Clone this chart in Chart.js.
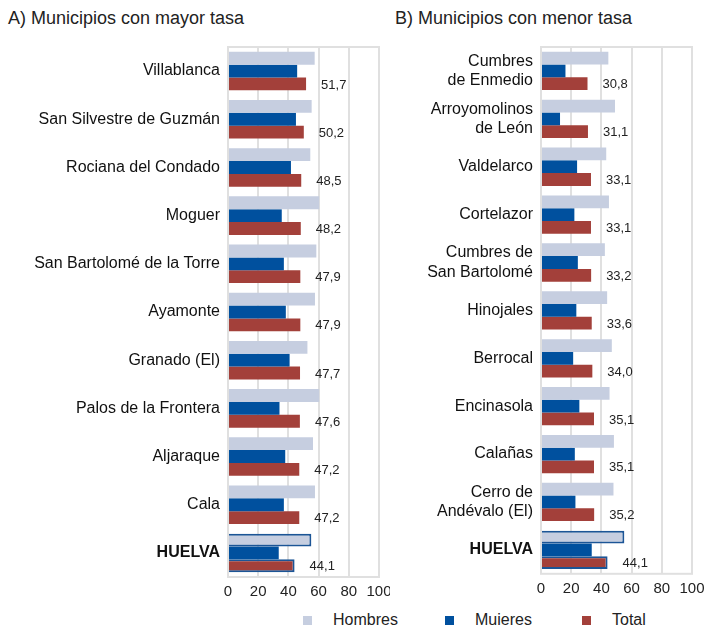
<!DOCTYPE html>
<html>
<head>
<meta charset="utf-8">
<script src="https://cdn.jsdelivr.net/npm/chart.js@4.4.1/dist/chart.umd.min.js"></script>
<style>
  html, body { margin: 0; padding: 0; background: #fff; overflow: hidden; }
  body { width: 706px; height: 625px; position: relative; font-family: "Liberation Sans", Arial, sans-serif; }
  .titulo { position: absolute; top: 8px; font-size: 18px; color: #222; white-space: nowrap; }
  .panel { position: absolute; top: 0; height: 601px; }
  .leyenda { position: absolute; top: 612px; font-size: 16px; line-height: 16px; color: #222; white-space: nowrap; }
  .caja { position: absolute; top: 616px; width: 9px; height: 10px; }
</style>
</head>
<body>
<div class="titulo" style="left:8px">A) Municipios con mayor tasa</div>
<div class="titulo" style="left:395px">B) Municipios con menor tasa</div>
<div class="panel" style="left:0; width:390px"><canvas id="chartA"></canvas></div>
<div class="panel" style="left:390px; width:316px"><canvas id="chartB"></canvas></div>

<div class="caja" style="left:303px; background:#c6cee0"></div>
<div class="leyenda" style="left:333px">Hombres</div>
<div class="caja" style="left:445px; background:#00509e"></div>
<div class="leyenda" style="left:475px">Mujeres</div>
<div class="caja" style="left:582px; background:#a3403a"></div>
<div class="leyenda" style="left:612px">Total</div>

<script>
// Datos (tasas por sexo)
const categoriasA = ['Villablanca', 'San Silvestre de Guzmán', 'Rociana del Condado', 'Moguer',
  'San Bartolomé de la Torre', 'Ayamonte', 'Granado (El)', 'Palos de la Frontera', 'Aljaraque', 'Cala', 'HUELVA'];
const hombresA = [57.4, 55.4, 54.5, 60.4, 58.5, 57.6, 52.6, 60.4, 56.3, 57.6, 55.2];
const mujeresA = [45.8, 45.0, 41.7, 35.6, 37.0, 38.3, 40.8, 34.1, 37.9, 37.0, 33.6];
const totalA = [51.7, 50.2, 48.5, 48.2, 47.9, 47.9, 47.7, 47.6, 47.2, 47.2, 44.1];

const categoriasB = [['Cumbres', 'de Enmedio'], ['Arroyomolinos', 'de León'], 'Valdelarco', 'Cortelazor',
  ['Cumbres de', 'San Bartolomé'], 'Hinojales', 'Berrocal', 'Encinasola', 'Calañas', ['Cerro de', 'Andévalo (El)'], 'HUELVA'];
const hombresB = [44.6, 49.0, 43.2, 45.0, 42.3, 43.8, 46.9, 45.4, 48.3, 48.0, 55.2];
const mujeresB = [16.2, 12.6, 23.9, 22.1, 24.4, 23.4, 21.3, 25.4, 22.4, 22.8, 33.6];
const totalB = [30.8, 31.1, 33.1, 33.1, 33.2, 33.6, 34.0, 35.1, 35.1, 35.2, 44.1];

const ticksX = [0, 20, 40, 60, 80, 100];

const FUENTE = '"Liberation Sans", Arial, sans-serif';
const ULTIMO = 10; // fila HUELVA

// borde del área del gráfico
const bordeArea = {
  id: 'bordeArea',
  beforeDatasetsDraw(chart) {
    const { ctx, chartArea: a } = chart;
    ctx.save();
    ctx.strokeStyle = '#e0e0e0';
    ctx.lineWidth = 2;
    ctx.strokeRect(a.left, a.top, a.right - a.left, a.bottom - a.top);
    ctx.restore();
  }
};

// etiquetas con el valor total
const etiquetasTotal = {
  id: 'etiquetasTotal',
  afterDatasetsDraw(chart) {
    const { ctx } = chart;
    const meta = chart.getDatasetMeta(2);
    const datos = chart.data.datasets[2].data;
    ctx.save();
    ctx.font = '13px ' + FUENTE;
    ctx.fillStyle = '#222';
    ctx.textAlign = 'left';
    ctx.textBaseline = 'middle';
    meta.data.forEach((bar, i) => {
      ctx.fillText(datos[i].toFixed(1).replace('.', ','), bar.x + 15, bar.y + 1);
    });
    ctx.restore();
  }
};

function borde(color) {
  return ctx => ctx.dataIndex === ULTIMO ? '#1c5596' : color;
}

function crearGrafico(id, etiquetas, hombres, mujeres, total, anchoEje, margenDer) {
  new Chart(document.getElementById(id), {
    type: 'bar',
    data: {
      labels: etiquetas,
      datasets: [
        { label: 'Hombres', data: hombres, backgroundColor: '#c6cee0',
          borderColor: borde('#c6cee0'), borderWidth: ctx => ctx.dataIndex === ULTIMO ? 2 : 0 },
        { label: 'Mujeres', data: mujeres, backgroundColor: '#00509e', borderWidth: 0 },
        { label: 'Total', data: total, backgroundColor: '#a3403a',
          borderColor: borde('#a3403a'), borderWidth: ctx => ctx.dataIndex === ULTIMO ? 2 : 0 }
      ]
    },
    options: {
      indexAxis: 'y',
      responsive: true,
      maintainAspectRatio: false,
      animation: false,
      categoryPercentage: 0.8,
      barPercentage: 1.0,
      layout: { padding: { top: 47, right: margenDer, left: 0, bottom: 0 } },
      plugins: { legend: { display: false }, tooltip: { enabled: false } },
      scales: {
        x: {
          min: 0, max: 100,
          afterBuildTicks: s => { s.ticks = ticksX.map(v => ({ value: v })); },
          afterFit: s => { s.height = 24; s.paddingLeft = 0; s.paddingRight = 0; },
          grid: { color: '#e0e0e0', lineWidth: 2, drawTicks: false },
          border: { display: false },
          ticks: { padding: 6, color: '#222', maxRotation: 0, minRotation: 0, autoSkip: false,
            font: { size: 15, family: FUENTE } }
        },
        y: {
          afterFit: s => { s.width = anchoEje; },
          grid: { display: false, drawTicks: false },
          border: { display: false },
          ticks: {
            padding: 8,
            color: '#111',
            font: ctx => ({ size: 16, family: FUENTE, weight: ctx.index === ULTIMO ? 'bold' : 'normal' })
          }
        }
      }
    },
    plugins: [bordeArea, etiquetasTotal]
  });
}

crearGrafico('chartA', categoriasA, hombresA, mujeresA, totalA, 228, 11);
crearGrafico('chartB', categoriasB, hombresB, mujeresB, totalB, 151, 14);
</script>
</body>
</html>
